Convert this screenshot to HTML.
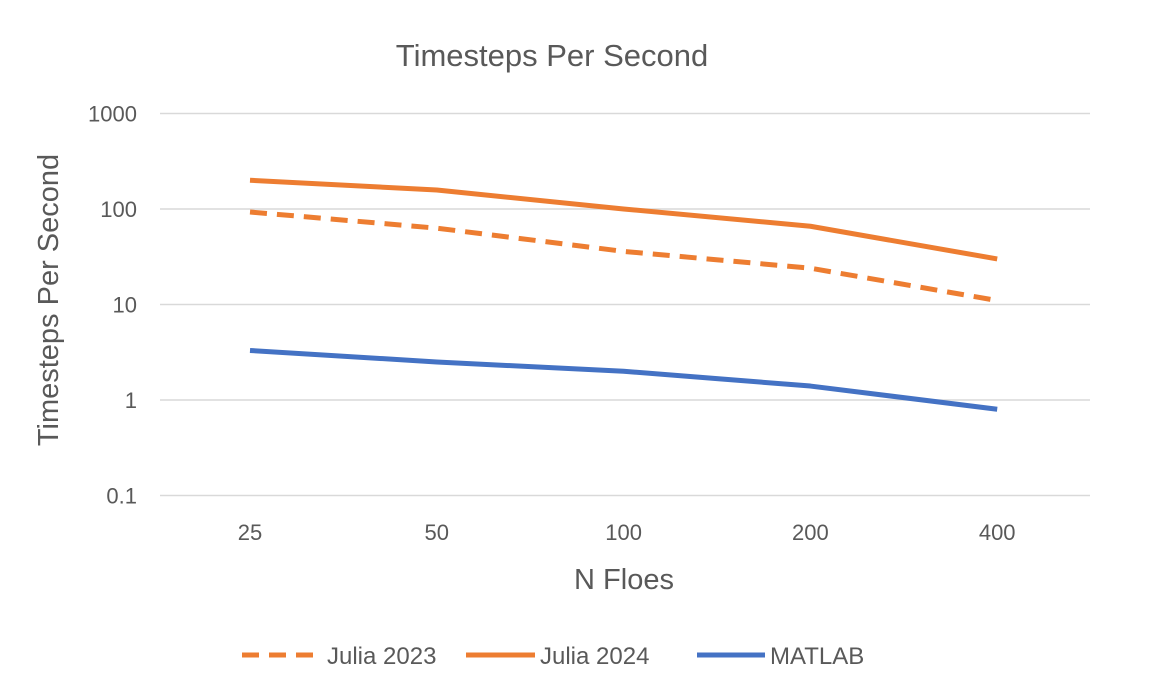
<!DOCTYPE html>
<html><head><meta charset="utf-8"><style>
body{margin:0;background:#fff;}
svg{display:block;font-family:"Liberation Sans",sans-serif;}
</style></head><body>
<svg width="1172" height="692" viewBox="0 0 1172 692">
<text x="552" y="66" text-anchor="middle" font-size="31" fill="#595959">Timesteps Per Second</text>
<text transform="translate(58,300) rotate(-90)" text-anchor="middle" font-size="29" fill="#595959">Timesteps Per Second</text>
<text x="624" y="589" text-anchor="middle" font-size="29" fill="#595959">N Floes</text>
<g id="grid"></g><g id="series"></g>
<g>
<line x1="242" y1="655" x2="320" y2="655" stroke="#ED7D31" stroke-width="5" stroke-dasharray="17,10"/>
<text x="327" y="664" font-size="24" fill="#595959">Julia 2023</text>
<line x1="466" y1="655" x2="535" y2="655" stroke="#ED7D31" stroke-width="5"/>
<text x="540" y="664" font-size="24" fill="#595959">Julia 2024</text>
<line x1="697" y1="655" x2="765" y2="655" stroke="#4472C4" stroke-width="5"/>
<text x="770" y="664" font-size="24" fill="#595959">MATLAB</text>
</g>
</svg>
<script>
const categories=["25","50","100","200","400"];
const julia2023=[93,63,36,24,11];
const julia2024=[200,158,100,66,30];
const matlab=[3.3,2.5,2.0,1.4,0.8];
const yTicks=[0.1,1,10,100,1000];
const yTickLabels=["0.1","1","10","100","1000"];
const NS="http://www.w3.org/2000/svg";
const y=v=>400-95.5*Math.log10(v);
const x=i=>250+i*186.8;
const grid=document.getElementById('grid');
yTicks.forEach((t,i)=>{
 const l=document.createElementNS(NS,'line');
 l.setAttribute('x1',160);l.setAttribute('x2',1090);l.setAttribute('y1',y(t));l.setAttribute('y2',y(t));
 l.setAttribute('stroke','#d9d9d9');l.setAttribute('stroke-width','1.5');
 
 
 grid.appendChild(l);
 const tx=document.createElementNS(NS,'text');
 tx.setAttribute('x',137);tx.setAttribute('y',y(t)+8);tx.setAttribute('text-anchor','end');
 tx.setAttribute('font-size','22');tx.setAttribute('fill','#595959');tx.textContent=yTickLabels[i];
 
 
 grid.appendChild(tx);
});
categories.forEach((c,i)=>{
 const tx=document.createElementNS(NS,'text');
 tx.setAttribute('x',x(i));tx.setAttribute('y',540);tx.setAttribute('text-anchor','middle');
 tx.setAttribute('font-size','22');tx.setAttribute('fill','#595959');tx.textContent=c;
 
 
 grid.appendChild(tx);
});
const sg=document.getElementById('series');
[[julia2023,'#ED7D31','17,10','series-julia-2023'],[julia2024,'#ED7D31','','series-julia-2024'],[matlab,'#4472C4','','series-matlab']].forEach(s=>{
 const p=document.createElementNS(NS,'polyline');
 p.setAttribute('points',s[0].map((v,i)=>x(i)+','+y(v)).join(' '));
 p.setAttribute('fill','none');p.setAttribute('stroke',s[1]);p.setAttribute('stroke-width','5');
 p.setAttribute('stroke-linejoin','round');
 if(s[2])p.setAttribute('stroke-dasharray',s[2]);
 
 
 sg.appendChild(p);
});
</script>
</body></html>
